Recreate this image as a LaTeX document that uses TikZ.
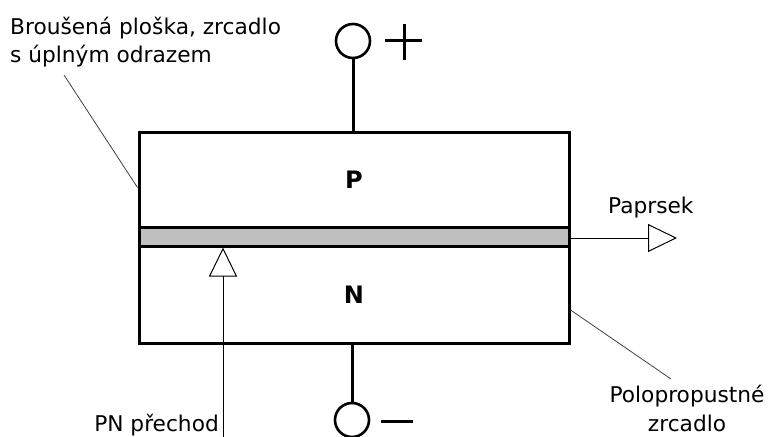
\documentclass[tikz,border=0pt]{standalone}
\usepackage{fontspec}
\setmainfont{DejaVu Sans}
\usetikzlibrary{arrows.meta}
\begin{document}
\begin{tikzpicture}[x=1pt,y=-1pt,
  region/.style={draw, line width=3pt, minimum width=430pt, inner sep=0pt, font=\fontsize{24}{24}\selectfont\bfseries},
  junction/.style={draw, line width=3pt, fill=black!25, minimum width=430pt, minimum height=19pt, inner sep=0pt},
  term/.style={draw, circle, line width=2.6pt, minimum size=34pt, inner sep=0pt},
  wire/.style={line width=3pt},
  sign/.style={line width=3pt},
  ray/.style={line width=1pt, -{Triangle[open, length=29pt, width=28pt, fill=white]}},
  leader/.style={line width=0.8pt, black!75},
  lbl/.style={inner sep=0pt, font=\fontsize{21.7}{28.5}\selectfont}
]
\useasboundingbox (0,0) rectangle (781,436);
% semiconductor layers
\node[region, minimum height=95pt] (P) at (354,179.5) {P};
\node[region, minimum height=97pt] (N) at (354,294.5) {N};
\node[junction] (pn) at (354,236.5) {};
% terminals
\node[term] (tp) at (353,41) {};
\node[term] (tn) at (352,420) {};
\draw[wire] (tp) -- (tp |- P.north);
\draw[wire] (tn |- N.south) -- (tn);
\draw[sign] (385,41) -- (422,41) (404,24) -- (404,60);
\draw[sign] (381,421) -- (413,421);
% beam
\coordinate (beamend) at (677,238);
\draw[ray] (pn.east |- beamend) -- (beamend);
\node[lbl, anchor=base west] (paprsek) at (608,213) {Paprsek};
% PN junction pointer
\coordinate (pnfoot) at (223,440);
\draw[ray] (pnfoot) -- (pnfoot |- pn.south);
\node[lbl, anchor=base east] (pnlabel) at (219,431) {PN přechod};
% ground mirror
\node[lbl, anchor=base west, align=left] (brous) at (10,63) {Broušená ploška, zrcadlo\\s úplným odrazem};
\coordinate (bl) at (64,75);
\draw[leader] (bl) -- ([yshift=-8pt]P.west);
% semi-transparent mirror
\node[lbl, anchor=base, align=center] (polo) at (687,431) {Polopropustné\\zrcadlo};
\coordinate (pl) at (671,379);
\draw[leader] ([yshift=-15.5pt]N.east) -- (pl);
\end{tikzpicture}
\end{document}
